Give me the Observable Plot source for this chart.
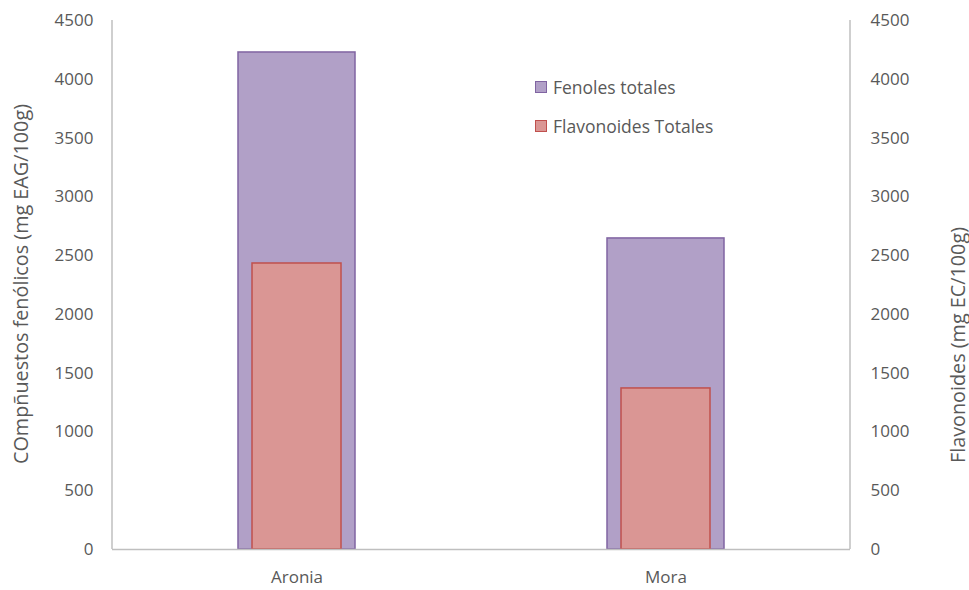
<!DOCTYPE html>
<html>
<head>
<meta charset="utf-8">
<script src="https://cdn.jsdelivr.net/npm/d3@7"></script>
<script src="https://cdn.jsdelivr.net/npm/@observablehq/plot@0.6"></script>
<style>
  body { margin: 0; background: #fff; }
  #wrap { position: relative; width: 969px; height: 590px; font-family: "Open Sans", sans-serif; }
  .legend { position: absolute; left: 535px; font-size: 17.5px; color: #595959; display: flex; align-items: center; }
  .sw { width: 10px; height: 10px; margin-right: 6px; border: 1.5px solid; }
  .ytitle { position: absolute; font-size: 19.8px; color: #595959; white-space: nowrap; transform: translate(-50%, -50%) rotate(-90deg); }
</style>
</head>
<body>
<div id="wrap"></div>
<script>
const categories = ["Aronia", "Mora"];
const fenoles = [4228, 2646];
const flavonoides = [2433, 1370];
const yTicks = [0, 500, 1000, 1500, 2000, 2500, 3000, 3500, 4000, 4500];
const seriesNames = ["Fenoles totales", "Flavonoides Totales"];
const colors = { fill: ["#B1A0C7", "#DA9694"], stroke: ["#8064A2", "#C0504D"] };

const fenData = categories.map((c, i) => ({ cat: c, v: fenoles[i] }));
const flaData = categories.map((c, i) => ({ cat: c, v: flavonoides[i] }));

const sideLines = (index, scales, values, dims) => {
  const g = document.createElementNS("http://www.w3.org/2000/svg", "g");
  const x0 = dims.marginLeft, x1 = dims.width - dims.marginRight;
  const y0 = dims.marginTop, y1 = dims.height - dims.marginBottom;
  for (const x of [x0, x1]) {
    const l = document.createElementNS("http://www.w3.org/2000/svg", "line");
    l.setAttribute("x1", x); l.setAttribute("x2", x);
    l.setAttribute("y1", y0); l.setAttribute("y2", y1);
    l.setAttribute("stroke", "#bfbfbf"); l.setAttribute("stroke-width", 1.5);
    g.appendChild(l);
  }
  return g;
};

const fmt = d => String(d);

const chart = Plot.plot({
  width: 969,
  height: 590,
  marginLeft: 112,
  marginRight: 119,
  marginTop: 20,
  marginBottom: 41,
  style: { fontFamily: "'Open Sans', sans-serif", fontSize: "17px", color: "#595959", background: "#fff" },
  x: { domain: categories, padding: 0, label: null },
  y: { domain: [0, 4500], label: null },
  marks: [
    Plot.barY(fenData, { x: "cat", y: "v", fill: colors.fill[0], stroke: colors.stroke[0], strokeWidth: 1.5, insetLeft: 126, insetRight: 126 }),
    Plot.barY(flaData, { x: "cat", y: "v", fill: colors.fill[1], stroke: colors.stroke[1], strokeWidth: 1.5, insetLeft: 140, insetRight: 140 }),
    Plot.ruleY([0], { stroke: "#bfbfbf", strokeWidth: 1.5 }),
    sideLines,
    Plot.axisY(yTicks, { anchor: "left", tickSize: 0, tickPadding: 19, label: null, fontSize: 17, tickFormat: fmt }),
    Plot.axisY(yTicks, { anchor: "right", tickSize: 0, tickPadding: 20, label: null, fontSize: 17, tickFormat: fmt }),
    Plot.axisX({ tickSize: 0, tickPadding: 21, label: null, fontSize: 17 })
  ]
});

const wrap = document.getElementById("wrap");
wrap.appendChild(chart);

seriesNames.forEach((name, i) => {
  const d = document.createElement("div");
  d.className = "legend";
  d.style.top = (i === 0 ? 75 : 114) + "px";
  const s = document.createElement("span");
  s.className = "sw";
  s.style.background = colors.fill[i];
  s.style.borderColor = colors.stroke[i];
  d.appendChild(s);
  d.appendChild(document.createTextNode(name));
  wrap.appendChild(d);
});

const t1 = document.createElement("div");
t1.className = "ytitle";
t1.style.left = "20px"; t1.style.top = "284px";
t1.textContent = "COmpñuestos fenólicos (mg EAG/100g)";
wrap.appendChild(t1);

const t2 = document.createElement("div");
t2.className = "ytitle";
t2.style.left = "957px"; t2.style.top = "345px";
t2.textContent = "Flavonoides (mg EC/100g)";
wrap.appendChild(t2);
</script>
</body>
</html>
